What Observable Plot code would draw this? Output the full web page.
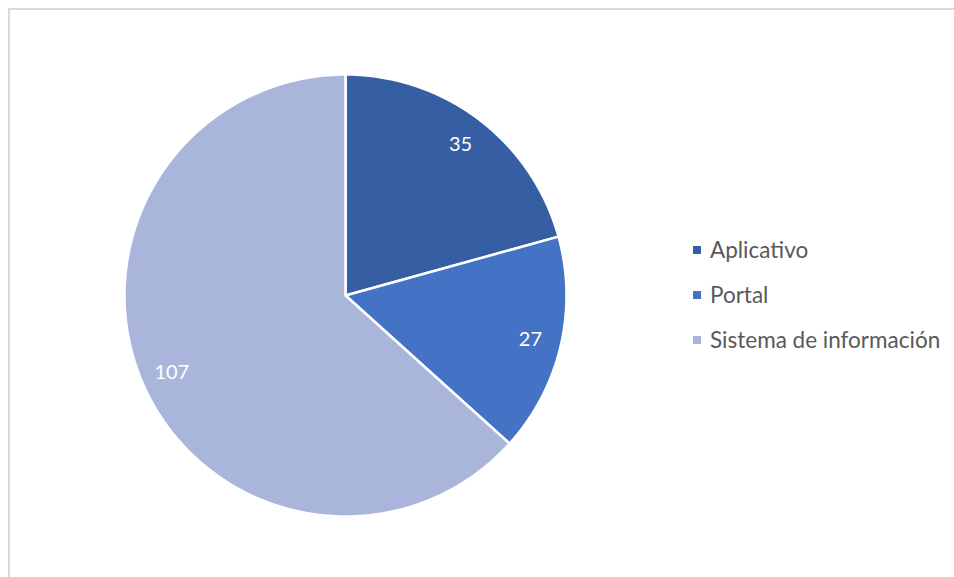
<!DOCTYPE html>
<html>
<head>
<meta charset="utf-8">
<script src="https://cdn.jsdelivr.net/npm/d3@7"></script>
<script src="https://cdn.jsdelivr.net/npm/@observablehq/plot@0.6"></script>
<style>
  html, body { margin: 0; padding: 0; background: #fff; }
  #wrap { position: relative; width: 954px; height: 577px; overflow: hidden; font-family: Lato, "Open Sans", sans-serif; }
  #frame { position: absolute; left: 8px; top: 8px; width: 1000px; height: 1000px; border-top: 2px solid #d9d9d9; border-left: 2px solid #d9d9d9; }
  #chart { position: absolute; left: 0; top: 0; }
  #legend { position: absolute; left: 693px; top: 227px; color: #595959; font-size: 22.5px; }
  #legend .row { display: flex; align-items: center; height: 45px; white-space: nowrap; }
  #legend .sw { width: 8px; height: 8px; margin-right: 9px; flex: none; }
</style>
</head>
<body>
<div id="wrap"><div id="frame"></div><div id="chart"></div><div id="legend"></div></div>
<script>
const categories = ["Aplicativo", "Portal", "Sistema de información"];
const values = [35, 27, 107];
const colors = ["#355ea3", "#4472c4", "#a9b5da"];

const W = 954, H = 577, CX = 345, CY = 295, R = 221;

const data = categories.map((c, i) => ({category: c, value: values[i]}));
const arcs = d3.pie().sort(null).value(d => d.value).startAngle(0).endAngle(2 * Math.PI)(data);

const slicePts = [];
arcs.forEach(a => {
  const c = a.data.category;
  slicePts.push({category: c, x: 0, y: 0});
  const n = 200;
  for (let k = 0; k <= n; k++) {
    const t = a.startAngle + (a.endAngle - a.startAngle) * k / n;
    slicePts.push({category: c, x: Math.sin(t), y: Math.cos(t)});
  }
});
const labels = arcs.map(a => {
  const m = (a.startAngle + a.endAngle) / 2;
  return {label: String(a.data.value), x: 0.86 * Math.sin(m), y: 0.86 * Math.cos(m)};
});

const chart = Plot.plot({
  width: W, height: H,
  marginTop: 0, marginBottom: 0, marginLeft: 0, marginRight: 0,
  x: {domain: [-CX / R, (W - CX) / R], range: [0, W], axis: null},
  y: {domain: [-(H - CY) / R, CY / R], range: [H, 0], axis: null},
  color: {domain: categories, range: colors},
  style: {background: "transparent"},
  marks: [
    Plot.line(slicePts, {x: "x", y: "y", z: "category", fill: "category", stroke: "white", strokeWidth: 2.5, curve: "linear-closed", strokeLinejoin: "round"}),
    Plot.text(labels, {x: "x", y: "y", text: "label", fill: "white", fontSize: 20, fontFamily: "Lato, 'Open Sans', sans-serif"})
  ]
});
document.getElementById("chart").appendChild(chart);

const legend = document.getElementById("legend");
categories.forEach((c, i) => {
  const row = document.createElement("div");
  row.className = "row";
  const sw = document.createElement("span");
  sw.className = "sw";
  sw.style.background = colors[i];
  const tx = document.createElement("span");
  tx.textContent = c;
  row.appendChild(sw); row.appendChild(tx);
  legend.appendChild(row);
});
</script>
</body>
</html>
